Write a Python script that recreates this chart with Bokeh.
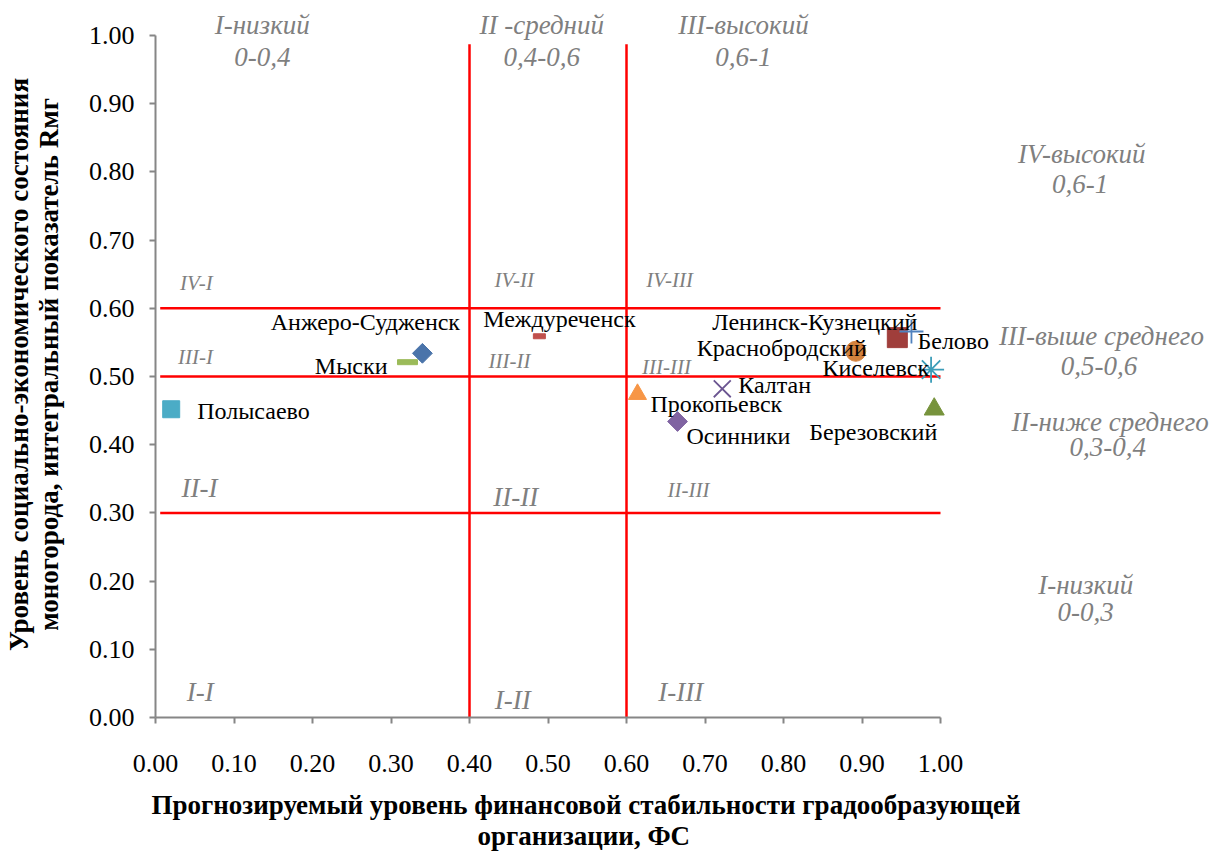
import numpy as np
from bokeh.plotting import figure
from bokeh.models import Label, Range1d, FixedTicker, NumeralTickFormatter, Title
from bokeh.embed import file_html
from bokeh.resources import INLINE

# ---- data ----
cities = ["Полысаево", "Мыски", "Анжеро-Судженск", "Междуреченск", "Прокопьевск",
          "Калтан", "Осинники", "Краснобродский", "Ленинск-Кузнецкий", "Белово",
          "Киселевск", "Березовский"]
fs = [0.020, 0.321, 0.340, 0.489, 0.614, 0.722, 0.665, 0.892, 0.945, 0.963, 0.988, 0.992]
rmg = [0.452, 0.521, 0.534, 0.559, 0.474, 0.482, 0.434, 0.537, 0.557, 0.566, 0.510, 0.452]
x_thresholds = [0.4, 0.6]
y_thresholds = [0.3, 0.5, 0.6]
ticks = [0.0, 0.1, 0.2, 0.3, 0.4, 0.5, 0.6, 0.7, 0.8, 0.9, 1.0]
x_title = ["Прогнозируемый уровень финансовой стабильности градообразующей",
           "организации, ФС"]
y_title = "Уровень социально-экономического состояния\nмоногорода, интегральный показатель Rмг"

# ---- styles ----
markers = ["square", "dash", "diamond", "dash", "triangle", "x", "diamond", "circle",
           "square", "cross", "asterisk", "triangle"]
colors = ["#4BACC6", "#9BBB59", "#4A74AA", "#C0504D", "#F79646", "#6B5591", "#8064A2",
          "#D3823D", "#A03E3B", "#4F81BD", "#3C9DB8", "#77933C"]
sizes = [17, 20, 14, 12, 18, 24, 14, 20, 20, 24, 26, 20]
# label placement: (x_offset px, y_offset px, align)
lab_pos = [(26, -2, "left"), (-20, -4, "right"), (-57, 31, "center"), (20, 17, "center"),
           (13, -10, "left"), (16, 4, "left"), (9, -14, "left"), (11, 3, "right"),
           (20, 16, "right"), (6, -10, "left"), (-2, 2, "right"), (3, -23, "right")]

SERIF = "Liberation Serif"
GRAY = "#7F7F7F"

p = figure(frame_width=1056, frame_height=706, output_backend="svg", toolbar_location=None,
           x_range=Range1d(0, 1056 / 785), y_range=Range1d(0, 706 / 682),
           min_border_left=153, min_border_top=11, min_border_right=2, min_border_bottom=136)
p.outline_line_color = None
p.xgrid.grid_line_color = None
p.ygrid.grid_line_color = None
p.background_fill_color = "white"
p.border_fill_color = "white"

for ax in (p.xaxis[0], p.yaxis[0]):
    ax.bounds = (0, 1)
    ax.ticker = FixedTicker(ticks=ticks)
    ax.formatter = NumeralTickFormatter(format="0.00")
    ax.axis_line_color = "#868686"
    ax.axis_line_width = 2
    ax.major_tick_line_color = "#868686"
    ax.major_tick_line_width = 2
    ax.major_tick_in = 0
    ax.major_tick_out = 6
    ax.minor_tick_line_color = None
    ax.major_label_text_font = SERIF
    ax.major_label_text_font_size = "26px"
    ax.major_label_text_color = "black"
    ax.axis_label_text_font = SERIF
    ax.axis_label_text_font_size = "27px"
    ax.axis_label_text_font_style = "bold"
    ax.axis_label_text_color = "black"
    ax.axis_label_text_line_height = 1.0

p.yaxis.axis_label = y_title
p.xaxis.major_label_standoff = 31
p.yaxis.major_label_standoff = 15
p.yaxis.axis_label_standoff = 22

# x-axis title lines, placed below the axis
for txt, off, so in ((x_title[0], -4, 26), (x_title[1], 322, -28)):
    p.add_layout(Title(text=txt, align="left", offset=off, standoff=so,
                       text_font=SERIF, text_font_size="27px", text_font_style="bold",
                       text_color="black"), "below")

# threshold lines
p.segment(x0=x_thresholds, y0=[0] * len(x_thresholds), x1=x_thresholds,
          y1=[0.987] * len(x_thresholds), line_color="#FF0000", line_width=2.5)
p.segment(x0=[0.006] * len(y_thresholds), y0=y_thresholds, x1=[1.0] * len(y_thresholds),
          y1=y_thresholds, line_color="#FF0000", line_width=2.5)

# points
for i, name in enumerate(cities):
    m, c, s = markers[i], colors[i], sizes[i]
    if m == "dash":
        p.rect(x=[fs[i]], y=[rmg[i]], width=s, height=5, width_units="screen",
               height_units="screen", fill_color=c, line_color=c)
    elif m == "diamond":
        p.scatter(x=[fs[i]], y=[rmg[i]], marker="square", size=s, angle=np.pi / 4,
                  fill_color=c, line_color=c)
    elif m in ("x", "cross", "asterisk"):
        p.scatter(x=[fs[i]], y=[rmg[i]], marker=m, size=s, line_color=c, line_width=1.8)
    else:
        p.scatter(x=[fs[i]], y=[rmg[i]], marker=m, size=s, fill_color=c, line_color=c)
    dx, dy, al = lab_pos[i]
    p.add_layout(Label(x=fs[i], y=rmg[i], text=name, x_offset=dx, y_offset=dy,
                       text_align=al, text_baseline="middle", text_font=SERIF,
                       text_font_size="24px", text_color="black"))

# zone labels (text, x, y, font size)
zone_labels = [
    ("I-низкий", 0.136, 1.015, 27), ("0-0,4", 0.136, 0.969, 27),
    ("II -средний", 0.492, 1.015, 27), ("0,4-0,6", 0.492, 0.969, 27),
    ("III-высокий", 0.749, 1.015, 27), ("0,6-1", 0.749, 0.969, 27),
    ("IV-высокий", 1.180, 0.826, 27), ("0,6-1", 1.178, 0.782, 27),
    ("III-выше среднего", 1.205, 0.559, 27), ("0,5-0,6", 1.202, 0.516, 27),
    ("II-ниже среднего", 1.216, 0.434, 27), ("0,3-0,4", 1.213, 0.397, 27),
    ("I-низкий", 1.185, 0.195, 27), ("0-0,3", 1.185, 0.154, 27),
    ("IV-I", 0.052, 0.637, 21), ("III-I", 0.051, 0.528, 21),
    ("IV-II", 0.457, 0.641, 21), ("III-II", 0.451, 0.522, 21),
    ("IV-III", 0.655, 0.641, 21), ("III-III", 0.651, 0.514, 21),
    ("II-III", 0.679, 0.333, 21),
    ("II-I", 0.056, 0.337, 27), ("II-II", 0.459, 0.324, 27),
    ("I-I", 0.057, 0.038, 27), ("I-II", 0.455, 0.026, 27), ("I-III", 0.669, 0.037, 27),
]
for t, zx, zy, fsz in zone_labels:
    p.add_layout(Label(x=zx, y=zy, text=t, text_align="center", text_baseline="middle",
                       text_font=SERIF, text_font_style="italic", text_font_size=f"{fsz}px",
                       text_color=GRAY))

open("out.html", "w").write(file_html(p, INLINE))
